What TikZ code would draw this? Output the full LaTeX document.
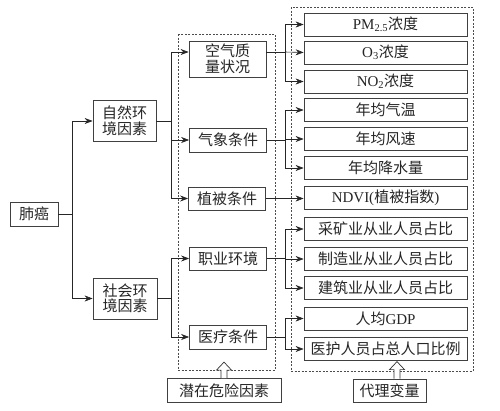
\documentclass[tikz,border=0pt]{standalone}
\usepackage{fontspec}
\setmainfont{Liberation Serif}
\newfontfamily\cjk{Noto Sans CJK SC}
\usetikzlibrary{arrows.meta}
\newcommand\hollowarrow[1]{\draw[hollow] ([xshift=-3pt]#1.north) -- ++(0,-8) -- ++(-4.5,0) -- ++(7.5,-8) -- ++(7.5,8) -- ++(-4.5,0) -- ++(0,8);}
\begin{document}
\begin{tikzpicture}[x=1pt,y=-1pt,
  box/.style={draw=black!75,line width=0.8pt,fill=white,inner sep=0pt,align=center,
    font=\cjk\fontsize{15}{15.5}\selectfont,text=black!85},
  rbox/.style={box,minimum width=163pt,minimum height=23pt},
  mbox/.style={box,minimum width=77pt,minimum height=23pt},
  arr/.style={draw=black!85,line width=0.6pt,-{Stealth[length=8pt,width=6pt]}},
  ln/.style={draw=black!85,line width=0.6pt},
  dbox/.style={draw=black!70,line width=0.6pt,dash pattern=on 2pt off 1.5pt},
  hollow/.style={draw=black!80,line width=0.7pt,fill=white,line join=miter}]
\useasboundingbox (0,0) rectangle (500,410);
\fill[white] (0,0) rectangle (500,410);
% dashed frames
\draw[dbox] (178,34) rectangle (275,370);
\draw[dbox] (291,7) rectangle (473,371);
% left
\node[box,minimum width=48pt,minimum height=24pt] (lc) at (34,214) {肺癌};
\node[box,minimum width=63pt,minimum height=41pt] (nat) at (124.5,121) {自然环\\境因素};
\node[box,minimum width=64pt,minimum height=41pt] (soc) at (125,298.5) {社会环\\境因素};
% middle
\node[mbox,minimum height=36pt] (air) at (227.5,59) {空气质\\量状况};
\node[mbox,minimum height=24pt] (qx) at (228,140) {气象条件};
\node[mbox] (zb) at (227,198.5) {植被条件};
\node[mbox] (zy) at (228,258.5) {职业环境};
\node[mbox,minimum height=24pt] (yl) at (228,337) {医疗条件};
% right
\node[rbox] (r1) at (385.5,24.5) {{\rmfamily PM\textsubscript{2.5}}浓度};
\node[rbox] (r2) at (385.5,52.5) {{\rmfamily O\textsubscript{3}}浓度};
\node[rbox] (r3) at (385.5,81.5) {{\rmfamily NO\textsubscript{2}}浓度};
\node[rbox] (r4) at (385.5,110) {年均气温};
\node[rbox] (r5) at (385.5,139) {年均风速};
\node[rbox] (r6) at (385.5,168) {年均降水量};
\node[rbox] (r7) at (385.5,198) {{\rmfamily NDVI(}植被指数{\rmfamily )}};
\node[rbox] (r8) at (385.5,229) {采矿业从业人员占比};
\node[rbox] (r9) at (385.5,259) {制造业从业人员占比};
\node[rbox] (r10) at (385.5,288) {建筑业从业人员占比};
\node[rbox] (r11) at (385.5,318.5) {人均{\rmfamily GDP}};
\node[rbox] (r12) at (385.5,349) {医护人员占总人口比例};
% bottom labels
\node[box,minimum width=114pt,minimum height=24pt] (qz) at (224,390.5) {潜在危险因素};
\node[box,minimum width=73pt,minimum height=23pt] (dl) at (389.5,390.5) {代理变量};
\hollowarrow{qz}
\draw[hollow] ([xshift=-3pt]dl.north -| 397,0) -- ++(0,-9) -- ++(-4.5,0) -- ++(7.5,-8) -- ++(7.5,8) -- ++(-4.5,0) -- ++(0,9);
% junction columns
\coordinate (c1) at (72,0);
\coordinate (c2) at (171,0);
\coordinate (c3) at (285,0);
% left connectors
\draw[ln] (lc.east) -- (lc.east -| c1);
\draw[arr] (lc.east -| c1) |- (nat.west);
\draw[arr] (lc.east -| c1) |- (soc.west);
% natural -> middle
\draw[ln] (nat.east) -- (nat.east -| c2);
\draw[arr] (nat.east -| c2) |- ([yshift=7pt]air.west);
\draw[arr] (nat.east -| c2) |- (qx.west);
\draw[arr] (nat.east -| c2) |- (zb.west);
% social -> middle
\draw[ln] (soc.east) -- (soc.east -| c2);
\draw[arr] (soc.east -| c2) |- (zy.west);
\draw[arr] (soc.east -| c2) |- (yl.west);
% middle -> right
\draw[ln] ([yshift=7pt]air.east) -- ([yshift=7pt]air.east -| c3);
\draw[arr] ([yshift=7pt]air.east -| c3) |- (r1.west);
\draw[arr] ([yshift=7pt]air.east -| c3) -- (r2.west);
\draw[arr] ([yshift=7pt]air.east -| c3) |- (r3.west);
\draw[ln] (qx.east) -- (qx.east -| c3);
\draw[arr] (qx.east -| c3) |- (r4.west);
\draw[arr] (qx.east -| c3) |- (r5.west);
\draw[arr] (qx.east -| c3) |- (r6.west);
\draw[arr] (zb.east) -- (zb.east -| r7.west);
\draw[ln] (zy.east) -- (zy.east -| c3);
\draw[arr] (zy.east -| c3) |- (r8.west);
\draw[arr] (zy.east -| c3) |- (r9.west);
\draw[arr] (zy.east -| c3) |- (r10.west);
\draw[ln] (yl.east) -- (yl.east -| c3);
\draw[arr] (yl.east -| c3) |- (r11.west);
\draw[arr] (yl.east -| c3) |- (r12.west);
\end{tikzpicture}
\end{document}
